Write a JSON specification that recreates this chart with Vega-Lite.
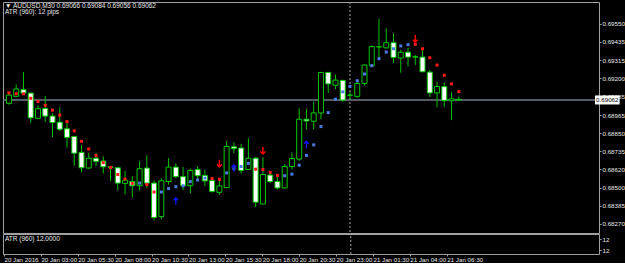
{
  "$schema": "https://vega.github.io/schema/vega-lite/v6.json",
  "background": "black",
  "padding": {"left": 1, "top": 1, "right": 0, "bottom": 0},
  "bounds": "flush",
  "spacing": 1,
  "config": {
    "view": {"stroke": "#a0a0a0", "strokeWidth": 1},
    "axis": {"domain": false, "grid": false, "labelColor": "#e8e8e8", "tickColor": "#a0a0a0", "labelFont": "Liberation Sans, Arial, sans-serif", "labelFontSize": 6.2, "title": null, "labelOverlap": false}
  },
  "datasets": {
    "candles": [
      {"t":"2016-01-20T00:30","open":0.69041,"high":0.69106,"low":0.69032,"close":0.69093},
      {"t":"2016-01-20T01:00","open":0.69085,"high":0.69161,"low":0.69081,"close":0.69132},
      {"t":"2016-01-20T01:30","open":0.69128,"high":0.69240,"low":0.69103,"close":0.69106},
      {"t":"2016-01-20T02:00","open":0.69106,"high":0.69106,"low":0.68916,"close":0.68948},
      {"t":"2016-01-20T02:30","open":0.68945,"high":0.69026,"low":0.68941,"close":0.69006},
      {"t":"2016-01-20T03:00","open":0.69008,"high":0.69087,"low":0.68922,"close":0.68959},
      {"t":"2016-01-20T03:30","open":0.68959,"high":0.68977,"low":0.68824,"close":0.68918},
      {"t":"2016-01-20T04:00","open":0.68920,"high":0.69014,"low":0.68863,"close":0.68875},
      {"t":"2016-01-20T04:30","open":0.68878,"high":0.68933,"low":0.68759,"close":0.68823},
      {"t":"2016-01-20T05:00","open":0.68829,"high":0.68830,"low":0.68641,"close":0.68722},
      {"t":"2016-01-20T05:30","open":0.68727,"high":0.68775,"low":0.68600,"close":0.68629},
      {"t":"2016-01-20T06:00","open":0.68627,"high":0.68725,"low":0.68623,"close":0.68690},
      {"t":"2016-01-20T06:30","open":0.68690,"high":0.68725,"low":0.68639,"close":0.68670},
      {"t":"2016-01-20T07:00","open":0.68672,"high":0.68702,"low":0.68592,"close":0.68635},
      {"t":"2016-01-20T07:30","open":0.68635,"high":0.68639,"low":0.68545,"close":0.68631},
      {"t":"2016-01-20T08:00","open":0.68629,"high":0.68629,"low":0.68484,"close":0.68531},
      {"t":"2016-01-20T08:30","open":0.68529,"high":0.68609,"low":0.68459,"close":0.68549},
      {"t":"2016-01-20T09:00","open":0.68541,"high":0.68576,"low":0.68439,"close":0.68514},
      {"t":"2016-01-20T09:30","open":0.68514,"high":0.68672,"low":0.68484,"close":0.68623},
      {"t":"2016-01-20T10:00","open":0.68627,"high":0.68708,"low":0.68500,"close":0.68531},
      {"t":"2016-01-20T10:30","open":0.68531,"high":0.68549,"low":0.68293,"close":0.68311},
      {"t":"2016-01-20T11:00","open":0.68317,"high":0.68562,"low":0.68299,"close":0.68546},
      {"t":"2016-01-20T11:30","open":0.68541,"high":0.68690,"low":0.68521,"close":0.68633},
      {"t":"2016-01-20T12:00","open":0.68633,"high":0.68657,"low":0.68562,"close":0.68572},
      {"t":"2016-01-20T12:30","open":0.68572,"high":0.68633,"low":0.68486,"close":0.68514},
      {"t":"2016-01-20T13:00","open":0.68514,"high":0.68623,"low":0.68464,"close":0.68612},
      {"t":"2016-01-20T13:30","open":0.68617,"high":0.68639,"low":0.68541,"close":0.68578},
      {"t":"2016-01-20T14:00","open":0.68580,"high":0.68617,"low":0.68511,"close":0.68545},
      {"t":"2016-01-20T14:30","open":0.68547,"high":0.68566,"low":0.68470,"close":0.68478},
      {"t":"2016-01-20T15:00","open":0.68472,"high":0.68562,"low":0.68456,"close":0.68513},
      {"t":"2016-01-20T15:30","open":0.68502,"high":0.68800,"low":0.68500,"close":0.68765},
      {"t":"2016-01-20T16:00","open":0.68763,"high":0.68792,"low":0.68722,"close":0.68751},
      {"t":"2016-01-20T16:30","open":0.68755,"high":0.68782,"low":0.68592,"close":0.68612},
      {"t":"2016-01-20T17:00","open":0.68618,"high":0.68818,"low":0.68617,"close":0.68690},
      {"t":"2016-01-20T17:30","open":0.68690,"high":0.68696,"low":0.68378,"close":0.68409},
      {"t":"2016-01-20T18:00","open":0.68398,"high":0.68696,"low":0.68396,"close":0.68586},
      {"t":"2016-01-20T18:30","open":0.68582,"high":0.68602,"low":0.68531,"close":0.68541},
      {"t":"2016-01-20T19:00","open":0.68541,"high":0.68574,"low":0.68490,"close":0.68500},
      {"t":"2016-01-20T19:30","open":0.68500,"high":0.68653,"low":0.68497,"close":0.68637},
      {"t":"2016-01-20T20:00","open":0.68637,"high":0.68727,"low":0.68618,"close":0.68688},
      {"t":"2016-01-20T20:30","open":0.68684,"high":0.69008,"low":0.68673,"close":0.68939},
      {"t":"2016-01-20T21:00","open":0.68939,"high":0.69003,"low":0.68873,"close":0.68928},
      {"t":"2016-01-20T21:30","open":0.68926,"high":0.69051,"low":0.68873,"close":0.68979},
      {"t":"2016-01-20T22:00","open":0.68979,"high":0.69240,"low":0.68939,"close":0.69238},
      {"t":"2016-01-20T22:30","open":0.69238,"high":0.69240,"low":0.69106,"close":0.69165},
      {"t":"2016-01-20T23:00","open":0.69156,"high":0.69224,"low":0.69132,"close":0.69189},
      {"t":"2016-01-20T23:30","open":0.69187,"high":0.69191,"low":0.69051,"close":0.69061},
      {"t":"2016-01-21T00:00","open":0.69092,"high":0.69112,"low":0.69067,"close":0.69093},
      {"t":"2016-01-21T00:30","open":0.69085,"high":0.69179,"low":0.69075,"close":0.69167},
      {"t":"2016-01-21T01:00","open":0.69167,"high":0.69289,"low":0.69153,"close":0.69285},
      {"t":"2016-01-21T01:30","open":0.69281,"high":0.69411,"low":0.69280,"close":0.69403},
      {"t":"2016-01-21T02:00","open":0.69401,"high":0.69581,"low":0.69330,"close":0.69402},
      {"t":"2016-01-21T02:30","open":0.69395,"high":0.69519,"low":0.69393,"close":0.69428},
      {"t":"2016-01-21T03:00","open":0.69428,"high":0.69489,"low":0.69299,"close":0.69334},
      {"t":"2016-01-21T03:30","open":0.69330,"high":0.69382,"low":0.69236,"close":0.69367},
      {"t":"2016-01-21T04:00","open":0.69367,"high":0.69395,"low":0.69275,"close":0.69336},
      {"t":"2016-01-21T04:30","open":0.69338,"high":0.69350,"low":0.69285,"close":0.69336},
      {"t":"2016-01-21T05:00","open":0.69336,"high":0.69379,"low":0.69240,"close":0.69242},
      {"t":"2016-01-21T05:30","open":0.69240,"high":0.69254,"low":0.69081,"close":0.69107},
      {"t":"2016-01-21T06:00","open":0.69107,"high":0.69179,"low":0.69016,"close":0.69148},
      {"t":"2016-01-21T06:30","open":0.69147,"high":0.69173,"low":0.69016,"close":0.69058},
      {"t":"2016-01-21T07:00","open":0.69057,"high":0.69112,"low":0.68933,"close":0.69069},
      {"t":"2016-01-21T07:30","open":0.69066,"high":0.69084,"low":0.69056,"close":0.69062}
    ],
    "stops": [
      {"t":"2016-01-20T00:30","level":0.69107,"trend":"down"},
      {"t":"2016-01-20T01:00","level":0.69101,"trend":"down"},
      {"t":"2016-01-20T01:30","level":0.69101,"trend":"down"},
      {"t":"2016-01-20T02:00","level":0.69073,"trend":"down"},
      {"t":"2016-01-20T02:30","level":0.69052,"trend":"down"},
      {"t":"2016-01-20T03:00","level":0.69028,"trend":"down"},
      {"t":"2016-01-20T03:30","level":0.68997,"trend":"down"},
      {"t":"2016-01-20T04:00","level":0.68965,"trend":"down"},
      {"t":"2016-01-20T04:30","level":0.68924,"trend":"down"},
      {"t":"2016-01-20T05:00","level":0.68865,"trend":"down"},
      {"t":"2016-01-20T05:30","level":0.68798,"trend":"down"},
      {"t":"2016-01-20T06:00","level":0.68749,"trend":"down"},
      {"t":"2016-01-20T06:30","level":0.68708,"trend":"down"},
      {"t":"2016-01-20T07:00","level":0.68661,"trend":"down"},
      {"t":"2016-01-20T07:30","level":0.68631,"trend":"down"},
      {"t":"2016-01-20T08:00","level":0.68586,"trend":"down"},
      {"t":"2016-01-20T08:30","level":0.68557,"trend":"down"},
      {"t":"2016-01-20T09:00","level":0.68529,"trend":"down"},
      {"t":"2016-01-20T09:30","level":0.68531,"trend":"up"},
      {"t":"2016-01-20T10:00","level":0.68521,"trend":"down"},
      {"t":"2016-01-20T10:30","level":0.68474,"trend":"down"},
      {"t":"2016-01-20T11:00","level":0.68474,"trend":"up"},
      {"t":"2016-01-20T11:30","level":0.68496,"trend":"up"},
      {"t":"2016-01-20T12:00","level":0.68508,"trend":"up"},
      {"t":"2016-01-20T12:30","level":0.68514,"trend":"up"},
      {"t":"2016-01-20T13:00","level":0.68540,"trend":"up"},
      {"t":"2016-01-20T13:30","level":0.68551,"trend":"up"},
      {"t":"2016-01-20T14:00","level":0.68563,"trend":"up"},
      {"t":"2016-01-20T14:30","level":0.68560,"trend":"down"},
      {"t":"2016-01-20T15:00","level":0.68555,"trend":"down"},
      {"t":"2016-01-20T15:30","level":0.68596,"trend":"up"},
      {"t":"2016-01-20T16:00","level":0.68623,"trend":"up"},
      {"t":"2016-01-20T16:30","level":0.68637,"trend":"up"},
      {"t":"2016-01-20T17:00","level":0.68657,"trend":"up"},
      {"t":"2016-01-20T17:30","level":0.68620,"trend":"down"},
      {"t":"2016-01-20T18:00","level":0.68617,"trend":"down"},
      {"t":"2016-01-20T18:30","level":0.68600,"trend":"down"},
      {"t":"2016-01-20T19:00","level":0.68580,"trend":"down"},
      {"t":"2016-01-20T19:30","level":0.68578,"trend":"up"},
      {"t":"2016-01-20T20:00","level":0.68588,"trend":"up"},
      {"t":"2016-01-20T20:30","level":0.68645,"trend":"up"},
      {"t":"2016-01-20T21:00","level":0.68708,"trend":"up"},
      {"t":"2016-01-20T21:30","level":0.68775,"trend":"up"},
      {"t":"2016-01-20T22:00","level":0.68892,"trend":"up"},
      {"t":"2016-01-20T22:30","level":0.68981,"trend":"up"},
      {"t":"2016-01-20T23:00","level":0.69067,"trend":"up"},
      {"t":"2016-01-20T23:30","level":0.69114,"trend":"up"},
      {"t":"2016-01-21T00:00","level":0.69148,"trend":"up"},
      {"t":"2016-01-21T00:30","level":0.69185,"trend":"up"},
      {"t":"2016-01-21T01:00","level":0.69228,"trend":"up"},
      {"t":"2016-01-21T01:30","level":0.69281,"trend":"up"},
      {"t":"2016-01-21T02:00","level":0.69326,"trend":"up"},
      {"t":"2016-01-21T02:30","level":0.69368,"trend":"up"},
      {"t":"2016-01-21T03:00","level":0.69389,"trend":"up"},
      {"t":"2016-01-21T03:30","level":0.69407,"trend":"up"},
      {"t":"2016-01-21T04:00","level":0.69415,"trend":"up"},
      {"t":"2016-01-21T04:30","level":0.69417,"trend":"down"},
      {"t":"2016-01-21T05:00","level":0.69389,"trend":"down"},
      {"t":"2016-01-21T05:30","level":0.69332,"trend":"down"},
      {"t":"2016-01-21T06:00","level":0.69285,"trend":"down"},
      {"t":"2016-01-21T06:30","level":0.69220,"trend":"down"},
      {"t":"2016-01-21T07:00","level":0.69165,"trend":"down"},
      {"t":"2016-01-21T07:30","level":0.69116,"trend":"down"}
    ],
    "arrows": [
      {"t":"2016-01-20T12:00","level":0.68415,"signal":"buy"},
      {"t":"2016-01-20T15:00","level":0.68657,"signal":"sell"},
      {"t":"2016-01-20T16:00","level":0.68626,"signal":"buy"},
      {"t":"2016-01-20T18:00","level":0.68739,"signal":"sell"},
      {"t":"2016-01-20T21:00","level":0.68775,"signal":"buy"},
      {"t":"2016-01-21T04:30","level":0.69454,"signal":"sell"}
    ],
    "bid": [{"price": 0.69062}]
  },
  "vconcat": [
    {
      "width": 596,
      "height": 231,
      "title": {
        "text": "▼ AUDUSD,M30  0.69066 0.69084 0.69056 0.69062",
        "subtitle": "ATR (960): 12 pips",
        "anchor": "start", "frame": "group", "offset": -14, "dx": 2,
        "color": "#e8e8e8", "font": "Liberation Sans, Arial, sans-serif", "fontSize": 6.5, "fontWeight": "normal",
        "subtitleColor": "#e8e8e8", "subtitleFont": "Liberation Sans, Arial, sans-serif", "subtitleFontSize": 6.5, "subtitlePadding": 0
      },
      "layer": [
        {
          "data": {"name": "bid"},
          "mark": {"type": "rule", "color": "#6e7a88", "strokeWidth": 1.5},
          "encoding": {
            "y": {"field": "price", "type": "quantitative", "title": null,
                  "scale": {"domain": [0.68244, 0.69656], "zero": false, "nice": false},
                  "axis": {"orient": "right", "values": [0.6955, 0.69435, 0.69315, 0.692, 0.69085, 0.68965, 0.6885, 0.68735, 0.6862, 0.685, 0.68385, 0.6827], "tickCount": 30, "format": ".5f", "tickSize": 2, "labelPadding": 1, "labelOverlap": false}}
          }
        },
        {
          "data": {"name": "bid"},
          "mark": {"type": "rule", "color": "#a0a0a0", "strokeDash": [2, 2], "strokeWidth": 1},
          "encoding": {
            "x": {"datum": {"year": 2016, "month": 1, "date": 21, "hours": 0, "minutes": 0}, "type": "temporal",
                  "scale": {"domain": [{"year": 2016, "month": 1, "date": 20, "hours": 0, "minutes": 26}, {"year": 2016, "month": 1, "date": 21, "hours": 16, "minutes": 49}]},
                  "axis": null}
          }
        },
        {
          "data": {"name": "candles"},
          "mark": {"type": "rule", "color": "#00c000", "strokeWidth": 1, "clip": true},
          "encoding": {
            "x": {"field": "t", "type": "temporal", "axis": null},
            "y": {"field": "low", "type": "quantitative", "title": null},
            "y2": {"field": "high"}
          }
        },
        {
          "data": {"name": "candles"},
          "mark": {"type": "bar", "size": 5, "stroke": "#00c800", "strokeWidth": 1, "clip": true},
          "encoding": {
            "x": {"field": "t", "type": "temporal", "axis": null},
            "y": {"field": "open", "type": "quantitative", "title": null},
            "y2": {"field": "close"},
            "fill": {"condition": {"test": "datum.close < datum.open", "value": "white"}, "value": "black"}
          }
        },
        {
          "data": {"name": "stops"},
          "mark": {"type": "square", "size": 9, "opacity": 1, "clip": true},
          "encoding": {
            "x": {"field": "t", "type": "temporal", "axis": null},
            "y": {"field": "level", "type": "quantitative", "title": null},
            "color": {"field": "trend", "type": "nominal", "scale": {"domain": ["down", "up"], "range": ["#ff1a1a", "#4b7be6"]}, "legend": null}
          }
        },
        {
          "data": {"name": "arrows"},
          "transform": [{"filter": "datum.signal == 'sell'"}],
          "mark": {"type": "point", "shape": "M0,-1L0,1M-0.7,0.3L0,1L0.7,0.3", "size": 49, "filled": false, "stroke": "#ff0000", "strokeWidth": 1.5, "opacity": 1},
          "encoding": {
            "x": {"field": "t", "type": "temporal", "axis": null},
            "y": {"field": "level", "type": "quantitative", "title": null}
          }
        },
        {
          "data": {"name": "arrows"},
          "transform": [{"filter": "datum.signal == 'buy'"}],
          "mark": {"type": "point", "shape": "M0,1L0,-1M-0.7,-0.3L0,-1L0.7,-0.3", "size": 49, "filled": false, "stroke": "#1414e6", "strokeWidth": 1.5, "opacity": 1},
          "encoding": {
            "x": {"field": "t", "type": "temporal", "axis": null},
            "y": {"field": "level", "type": "quantitative", "title": null}
          }
        },
        {
          "data": {"name": "bid"},
          "mark": {"type": "bar", "color": "white", "size": 9, "orient": "horizontal", "clip": false},
          "encoding": {
            "x": {"datum": {"year": 2016, "month": 1, "date": 21, "hours": 16, "minutes": 53}, "type": "temporal", "axis": null},
            "x2": {"datum": {"year": 2016, "month": 1, "date": 21, "hours": 18, "minutes": 35}},
            "y": {"field": "price", "type": "quantitative", "title": null}
          }
        },
        {
          "data": {"name": "bid"},
          "mark": {"type": "text", "color": "black", "font": "Liberation Sans, Arial, sans-serif", "fontSize": 6.2, "align": "center", "baseline": "middle", "clip": false},
          "encoding": {
            "x": {"datum": {"year": 2016, "month": 1, "date": 21, "hours": 17, "minutes": 44}, "type": "temporal", "axis": null},
            "y": {"field": "price", "type": "quantitative", "title": null},
            "text": {"field": "price", "type": "quantitative", "format": ".5f"}
          }
        }
      ]
    },
    {
      "width": 596,
      "height": 20,
      "title": {
        "text": "ATR (960) 12.0000",
        "anchor": "start", "frame": "group", "offset": -9, "dx": 2,
        "color": "#e8e8e8", "font": "Liberation Sans, Arial, sans-serif", "fontSize": 6.5, "fontWeight": "normal"
      },
      "data": {"name": "bid"},
      "mark": {"type": "rule", "color": "#a0a0a0", "strokeDash": [2, 2], "strokeWidth": 1},
      "encoding": {
        "x": {"datum": {"year": 2016, "month": 1, "date": 21, "hours": 0, "minutes": 0}, "type": "temporal",
              "scale": {"domain": [{"year": 2016, "month": 1, "date": 20, "hours": 0, "minutes": 26}, {"year": 2016, "month": 1, "date": 21, "hours": 16, "minutes": 49}]},
              "axis": {
                "values": [
                  {"year": 2016, "month": 1, "date": 20, "hours": 0, "minutes": 30},
                  {"year": 2016, "month": 1, "date": 20, "hours": 3, "minutes": 0},
                  {"year": 2016, "month": 1, "date": 20, "hours": 5, "minutes": 30},
                  {"year": 2016, "month": 1, "date": 20, "hours": 8, "minutes": 0},
                  {"year": 2016, "month": 1, "date": 20, "hours": 10, "minutes": 30},
                  {"year": 2016, "month": 1, "date": 20, "hours": 13, "minutes": 0},
                  {"year": 2016, "month": 1, "date": 20, "hours": 15, "minutes": 30},
                  {"year": 2016, "month": 1, "date": 20, "hours": 18, "minutes": 0},
                  {"year": 2016, "month": 1, "date": 20, "hours": 20, "minutes": 30},
                  {"year": 2016, "month": 1, "date": 20, "hours": 23, "minutes": 0},
                  {"year": 2016, "month": 1, "date": 21, "hours": 1, "minutes": 30},
                  {"year": 2016, "month": 1, "date": 21, "hours": 4, "minutes": 0},
                  {"year": 2016, "month": 1, "date": 21, "hours": 6, "minutes": 30}
                ],
                "tickCount": 30,
                "labelExpr": "datum.value < datetime(2016, 0, 20, 1, 0) ? '20 Jan 2016' : timeFormat(datum.value, '%d %b %H:%M')",
                "labelAlign": "left", "labelPadding": 0, "tickSize": 2, "labelOverlap": false
              }},
        "y": {"datum": 11.98, "type": "quantitative",
              "scale": {"domain": [11.98, 12.02], "zero": false, "nice": false},
              "axis": {"orient": "right", "values": [12.01, 11.988], "tickCount": 5, "format": ".0f", "tickSize": 2, "labelPadding": 1, "title": null}},
        "y2": {"datum": 12.02}
      }
    }
  ]
}
